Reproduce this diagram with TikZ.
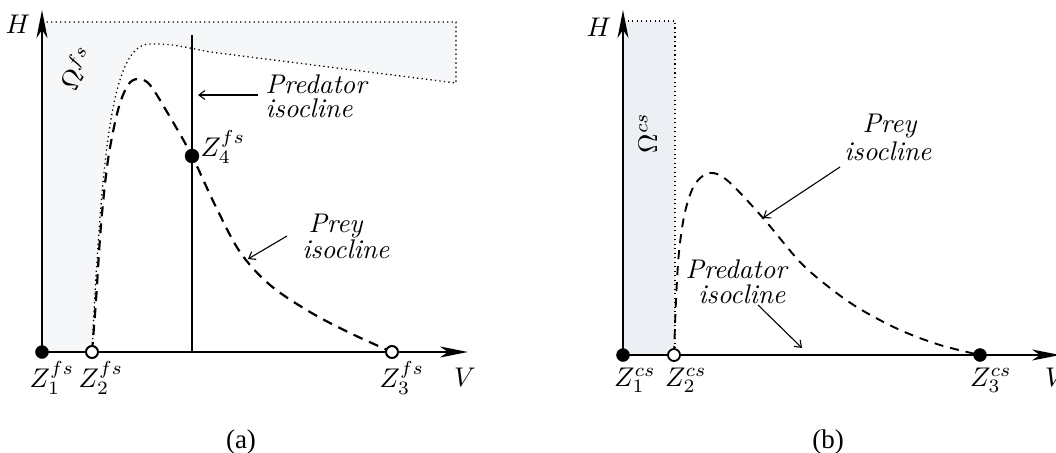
\documentclass[tikz,border=0pt]{standalone}
\usepackage{fontspec}
\newfontfamily\capfont{Liberation Serif}
\usetikzlibrary{arrows.meta}
\tikzset{
  lbl/.style={font=\fontsize{10}{10}\selectfont, inner sep=0pt, scale=2.7, transform shape},
  captext/.style={font=\capfont\fontsize{27}{28}\selectfont, inner sep=0pt},
  axisA/.style={line width=2.4pt, -{Stealth[length=28pt,width=11pt,inset=8pt]}},
  axisB/.style={line width=1.8pt, -{Stealth[length=28pt,width=11pt,inset=8pt]}},
  isoA/.style={line width=2.4pt},
  preyA/.style={line width=2.2pt, dash pattern=on 10pt off 7pt},
  preyB/.style={line width=1.9pt, dash pattern=on 9pt off 7pt},
  omegaline/.style={line width=1.3pt, dash pattern=on 1.3pt off 3.2pt},
  regA/.style={fill={rgb,255:red,246;green,247;blue,248}},
  regB/.style={fill={rgb,255:red,236;green,239;blue,243}},
  fdot/.style={circle, fill=black, draw=black, minimum size=13pt, inner sep=0pt},
  odot/.style={circle, fill=white, draw=black, line width=2pt, minimum size=12pt, inner sep=0pt},
  thinarrow/.style={line width=1.1pt, -{Straight Barb[length=6pt,width=9pt]}},
}
\begin{document}
\begin{tikzpicture}[x=1pt,y=-1pt]
\useasboundingbox (0,0) rectangle (1056,452);
% ================= panel (a) =================
\fill[regA] (42,352) -- (42,22) -- (456,22) -- (456,83) -- (210,52)
  .. controls (170,44) .. (150,44) .. controls (112,44) and (102,150) .. (92,352) -- cycle;
\draw[omegaline] (42,22) -- (456,22) -- (456,83) -- (210,52)
  .. controls (170,44) .. (150,44) .. controls (112,44) and (102,150) .. (92,352);
\draw[preyA] plot[smooth, tension=0.55] coordinates {(92,352) (96,300) (101,225) (108,160) (118,110) (128,85) (138,79) (150,85) (170,117) (192,156) (215,205) (240,252) (270,285) (310,312) (350,333) (392,352)};
\coordinate (oA) at (42,352);
\coordinate (hA) at (42,10);
\coordinate (vA) at (468,352);
\draw[axisA] (oA) -- (hA);
\draw[axisA] (oA) -- (vA);
\coordinate (pbA) at (192,352);
\coordinate (ptA) at (192,35);
\draw[isoA] (pbA) -- (ptA);
\node[fdot] (z1a) at (42,352) {};
\node[odot] (z2a) at (92,352) {};
\node[odot] (z3a) at (392,352) {};
\node[fdot, minimum size=14pt] (z4a) at (192,156) {};
\node[lbl] (hla) at (18,24) {$H$};
\node[lbl, anchor=base] (vla) at (465,386) {$V$};
\node[lbl, rotate=60] (oma) at (76,68) {$\Omega^{fs}$};
\node[lbl, anchor=base] (z1la) at (52,387) {$Z_1^{fs}$};
\node[lbl, anchor=base] (z2la) at (101,387) {$Z_2^{fs}$};
\node[lbl, anchor=base] (z3la) at (402,387) {$Z_3^{fs}$};
\node[lbl, anchor=base west] (z4la) at (200,156) {$Z_4^{fs}$};
\node[lbl, anchor=base west] (preda1) at (265,93) {\textit{Predator}};
\node[lbl, anchor=base west] (preda2) at (265,117) {\textit{isocline}};
\node[lbl, anchor=base] (preya1) at (336,232) {\textit{Prey}};
\node[lbl, anchor=base] (preya2) at (346,258) {\textit{isocline}};
\coordinate (paS) at (258,95);
\coordinate (paE) at (198,95);
\draw[thinarrow] (paS) -- (paE);
\coordinate (qaS) at (287,236);
\coordinate (qaE) at (248,259);
\draw[thinarrow] (qaS) -- (qaE);
\node[captext] (capa) at (241,442) {(a)};
% ================= panel (b) =================
\fill[regB] (623,21) rectangle (675,355);
\draw[omegaline] (623,21) -- (675,21) -- (675,355);
\draw[preyB] plot[smooth, tension=0.55] coordinates {(674,355) (676,300) (679,252) (685,212) (695,184) (710,173) (728,181) (763,218) (800,262) (830,288) (860,309) (900,330) (940,345) (980,355)};
\coordinate (oB) at (623,355);
\coordinate (hB) at (623,10);
\coordinate (vB) at (1060,355);
\draw[axisB] (oB) -- (hB);
\draw[axisB] (oB) -- (vB);
\node[fdot] (z1b) at (623,355) {};
\node[odot, line width=1.8pt] (z2b) at (674,355) {};
\node[fdot] (z3b) at (980,355) {};
\node[lbl] (hlb) at (599,27) {$H$};
\node[lbl, anchor=base] (vlb) at (1056,386) {$V$};
\node[lbl, rotate=90] (omb) at (648,133) {$\Omega^{cs}$};
\node[lbl, anchor=base] (z1lb) at (635,386) {$Z_1^{cs}$};
\node[lbl, anchor=base] (z2lb) at (686,386) {$Z_2^{cs}$};
\node[lbl, anchor=base] (z3lb) at (991,386) {$Z_3^{cs}$};
\node[lbl, anchor=base] (preyb1) at (890,132) {\textit{Prey}};
\node[lbl, anchor=base] (preyb2) at (888,160) {\textit{isocline}};
\node[lbl, anchor=base] (predb1) at (737,278) {\textit{Predator}};
\node[lbl, anchor=base] (predb2) at (742,303) {\textit{isocline}};
\coordinate (pbS) at (840,167);
\coordinate (pbE) at (763,218);
\draw[thinarrow] (pbS) -- (pbE);
\coordinate (qbS) at (758,305);
\coordinate (qbE) at (802,348);
\draw[thinarrow] (qbS) -- (qbE);
\node[captext] (capb) at (828,442) {(b)};
\end{tikzpicture}
\end{document}
